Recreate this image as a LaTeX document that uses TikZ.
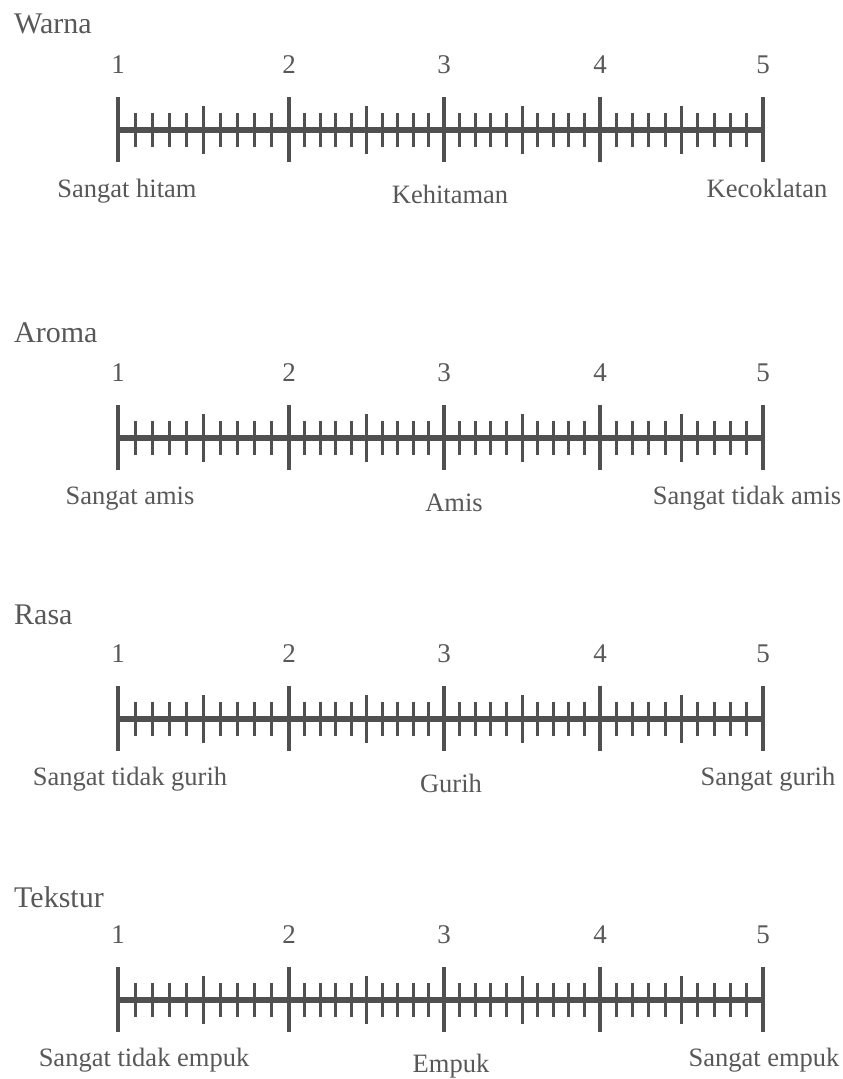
\documentclass[tikz,border=0pt]{standalone}
\usepackage{fontspec}
\setmainfont{Liberation Serif}
\definecolor{ink}{RGB}{80,80,80}
\definecolor{txt}{RGB}{88,88,88}
\tikzset{
  ttl/.style={anchor=base west, font=\fontsize{30}{36}\selectfont, text=txt, inner sep=0pt},
  num/.style={anchor=base, font=\fontsize{27}{32}\selectfont, text=txt, inner sep=0pt},
  lbl/.style={anchor=base, font=\fontsize{26.5}{32}\selectfont, text=txt, inner sep=0pt},
  axisline/.style={draw=ink, line width=6.5pt},
  majortick/.style={draw=ink, line width=4pt},
  minortick/.style={draw=ink, line width=3pt},
}
\newcommand\myscale[2]{%
  \coordinate (#1a) at (118,#2);
  \coordinate (#1b) at (763,#2);
  \draw[axisline] (#1a) -- (#1b);
  \foreach \i/\x in {1/118,2/289,3/444,4/600,5/763}{%
    \draw[majortick] (\x,#2-33) -- (\x,#2+32);
    \node[num] (#1n\i) at (\x,#2-57) {\i};
  }
  \foreach \a/\b in {118/289,289/444,444/600,600/763}{%
    \foreach \k in {1,...,9}{%
      \ifnum\k=5
        \draw[minortick] ({\a+(\b-\a)*\k/10},#2-24) -- ({\a+(\b-\a)*\k/10},#2+24);
      \else
        \draw[minortick] ({\a+(\b-\a)*\k/10},#2-17) -- ({\a+(\b-\a)*\k/10},#2+17);
      \fi
    }
  }
}
\begin{document}
\begin{tikzpicture}[x=1pt,y=-1pt]
\fill[white] (0,0) rectangle (843,1079);
\useasboundingbox (0,0) rectangle (843,1079);

% Warna
\node[ttl] (t1) at (14,33) {Warna};
\myscale{w}{130}
\node[lbl] (w1) at (127,197) {Sangat hitam};
\node[lbl] (w2) at (450,203) {Kehitaman};
\node[lbl] (w3) at (767,197) {Kecoklatan};

% Aroma
\node[ttl] (t2) at (14,342) {Aroma};
\myscale{a}{438}
\node[lbl] (a1) at (130,504) {Sangat amis};
\node[lbl] (a2) at (454,511) {Amis};
\node[lbl] (a3) at (747,504) {Sangat tidak amis};

% Rasa
\node[ttl] (t3) at (14,624) {Rasa};
\myscale{r}{719}
\node[lbl] (r1) at (130,785) {Sangat tidak gurih};
\node[lbl] (r2) at (451,792) {Gurih};
\node[lbl] (r3) at (768,785) {Sangat gurih};

% Tekstur
\node[ttl] (t4) at (14,907) {Tekstur};
\myscale{k}{1000}
\node[lbl] (k1) at (144,1066) {Sangat tidak empuk};
\node[lbl] (k2) at (451,1072) {Empuk};
\node[lbl] (k3) at (764,1066) {Sangat empuk};
\end{tikzpicture}
\end{document}
